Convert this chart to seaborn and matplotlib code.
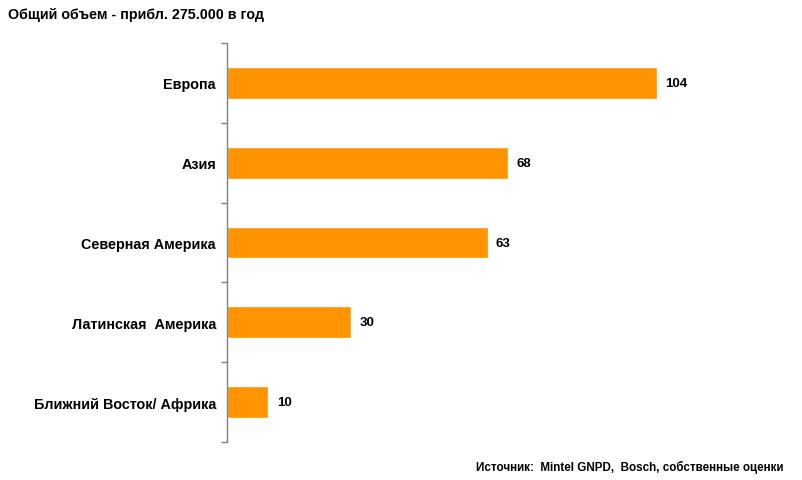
import numpy as np
import pandas as pd
import matplotlib
matplotlib.use('Agg')
import matplotlib.pyplot as plt
import seaborn as sns

regions = ['Европа', 'Азия', 'Северная Америка', 'Латинская  Америка', 'Ближний Восток/ Африка']
volumes = [104, 68, 63, 30, 10]

title = 'Общий объем - прибл. 275.000 в год'
source = 'Источник:  Mintel GNPD,  Bosch, собственные оценки'

sns.set_style('white')
plt.rcParams['font.family'] = ['Liberation Sans', 'DejaVu Sans']
plt.rcParams['font.weight'] = 'bold'
plt.rcParams['text.color'] = 'black'
plt.rcParams['ytick.labelcolor'] = 'black'

df = pd.DataFrame({'region': regions, 'volume': volumes})

fig = plt.figure(figsize=(8.03, 4.81), dpi=100)
ax = fig.add_axes([0.2827, 0.079, 0.68, 0.8295])

sns.barplot(data=df, x='volume', y='region', color='#FF9400', saturation=1,
            width=0.4, ax=ax)

ax.set_xlim(0, 132)
ax.set_ylim(len(regions) - 0.5, -0.5)
ax.set_xlabel('')
ax.set_ylabel('')
ax.set_xticks([])

for s in ['top', 'right', 'bottom']:
    ax.spines[s].set_visible(False)
ax.spines['left'].set_color('#808080')
ax.spines['left'].set_linewidth(1)

ax.set_yticks(np.arange(len(regions)))
ax.set_yticklabels(regions, fontsize=10.4, fontweight='bold', color='black')
ax.set_yticks(np.arange(len(regions) + 1) - 0.5, minor=True)
ax.tick_params(axis='y', which='major', length=0, pad=8)
ax.tick_params(axis='y', which='minor', length=4, width=1, color='#808080', left=True)

for i, v in enumerate(volumes):
    ax.text(v + 2, i, str(v), va='center', ha='left', fontsize=9.5, fontweight='bold', color='black')

fig.text(0.01, 0.968, title, fontsize=10.3, fontweight='bold', ha='left', va='center', color='black')
fig.text(0.976, 0.028, source, fontsize=8.4, fontweight='bold', ha='right', va='center', color='black')

fig.savefig('out.png', dpi=100)
